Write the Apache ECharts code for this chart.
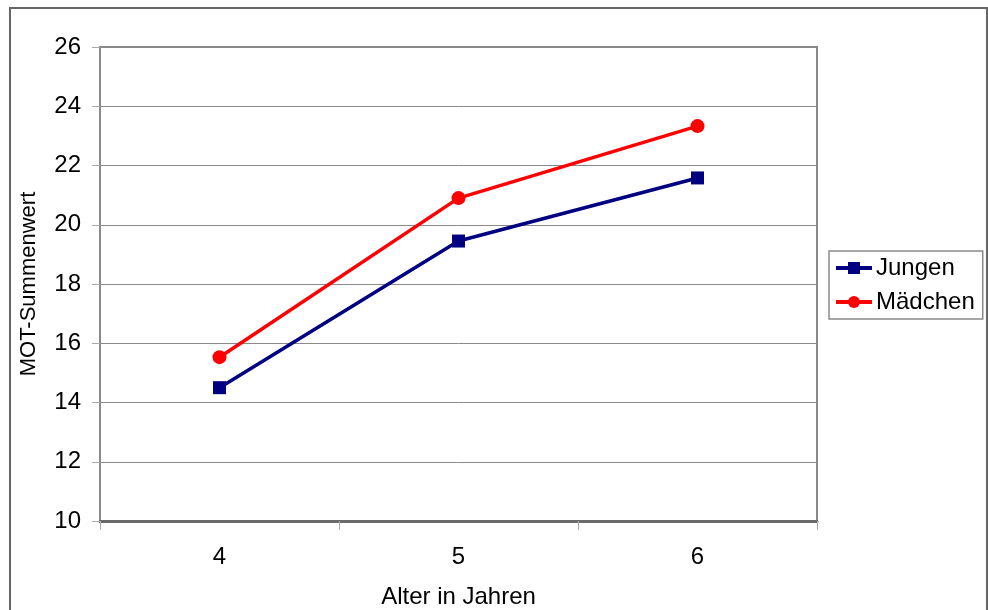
<!DOCTYPE html>
<html>
<head>
<meta charset="utf-8">
<script src="https://cdn.jsdelivr.net/npm/echarts@6/dist/echarts.min.js"></script>
<style>
  html, body { margin: 0; padding: 0; background: #fff; }
  #chart { width: 988px; height: 610px; }
</style>
</head>
<body>
<div id="chart"></div>
<script>
// Alter in Jahren (categories)
const ages = ['4', '5', '6'];
// MOT-Summenwert per age group
const jungen = [14.5, 19.45, 21.58];
const maedchen = [15.53, 20.9, 23.33];
// y-axis scale
const yMin = 10;
const yMax = 26;
const yStep = 2;

const chart = echarts.init(document.getElementById('chart'), null, { renderer: 'canvas' });
const font = 'Liberation Sans, Arial, sans-serif';

chart.setOption({
  backgroundColor: '#ffffff',
  animation: false,
  graphic: [{
    type: 'rect',
    shape: { x: 10, y: 8, width: 977, height: 640 },
    style: { fill: 'none', stroke: '#666666', lineWidth: 2 },
    silent: true,
    z: 0
  }],
  grid: {
    left: 100, right: 171, top: 47, bottom: 89,
    outerBoundsMode: 'none',
    containLabel: false,
    show: true,
    borderColor: '#8a8a8a',
    borderWidth: 2,
    backgroundColor: 'transparent'
  },
  legend: {
    orient: 'vertical',
    left: 829, top: 251,
    width: 153,
    padding: [5, 8, 5, 5],
    itemGap: 10,
    itemWidth: 36,
    itemHeight: 15,
    borderColor: '#8a8a8a',
    borderWidth: 1.5,
    lineStyle: { width: 4 },
    textStyle: { fontFamily: font, fontSize: 24, color: '#000', padding: [0, 0, 0, -1] },
    data: ['Jungen', 'Mädchen']
  },
  xAxis: {
    type: 'category',
    data: ages,
    boundaryGap: true,
    name: 'Alter in Jahren',
    nameLocation: 'middle',
    nameGap: 64,
    nameTextStyle: { fontFamily: font, fontSize: 24, color: '#000' },
    axisLine: { lineStyle: { color: '#6a6a6a', width: 3 } },
    axisTick: { show: true, length: 9, lineStyle: { color: '#aaaaaa', width: 1 } },
    axisLabel: { fontFamily: font, fontSize: 24, color: '#000', margin: 24 },
    splitLine: { show: false }
  },
  yAxis: {
    type: 'value',
    min: yMin, max: yMax, interval: yStep,
    name: 'MOT-Summenwert',
    nameLocation: 'middle',
    nameRotate: 90,
    nameGap: 60,
    nameTextStyle: { fontFamily: font, fontSize: 22, color: '#000' },
    axisLine: { show: true, lineStyle: { color: '#8a8a8a', width: 2 } },
    axisTick: { show: true, length: 8, lineStyle: { color: '#aaaaaa', width: 1 } },
    axisLabel: { fontFamily: font, fontSize: 24, color: '#000', margin: 19 },
    splitLine: { show: true, lineStyle: { color: '#8a8a8a', width: 1 } }
  },
  series: [
    {
      name: 'Jungen',
      type: 'line',
      data: jungen,
      symbol: 'rect',
      symbolSize: 13,
      color: '#000080',
      lineStyle: { color: '#000080', width: 3.5 },
      itemStyle: { color: '#000080' }
    },
    {
      name: 'Mädchen',
      type: 'line',
      data: maedchen,
      symbol: 'circle',
      symbolSize: 14,
      color: '#ff0000',
      lineStyle: { color: '#ff0000', width: 3.5 },
      itemStyle: { color: '#ff0000' }
    }
  ]
});
</script>
</body>
</html>
